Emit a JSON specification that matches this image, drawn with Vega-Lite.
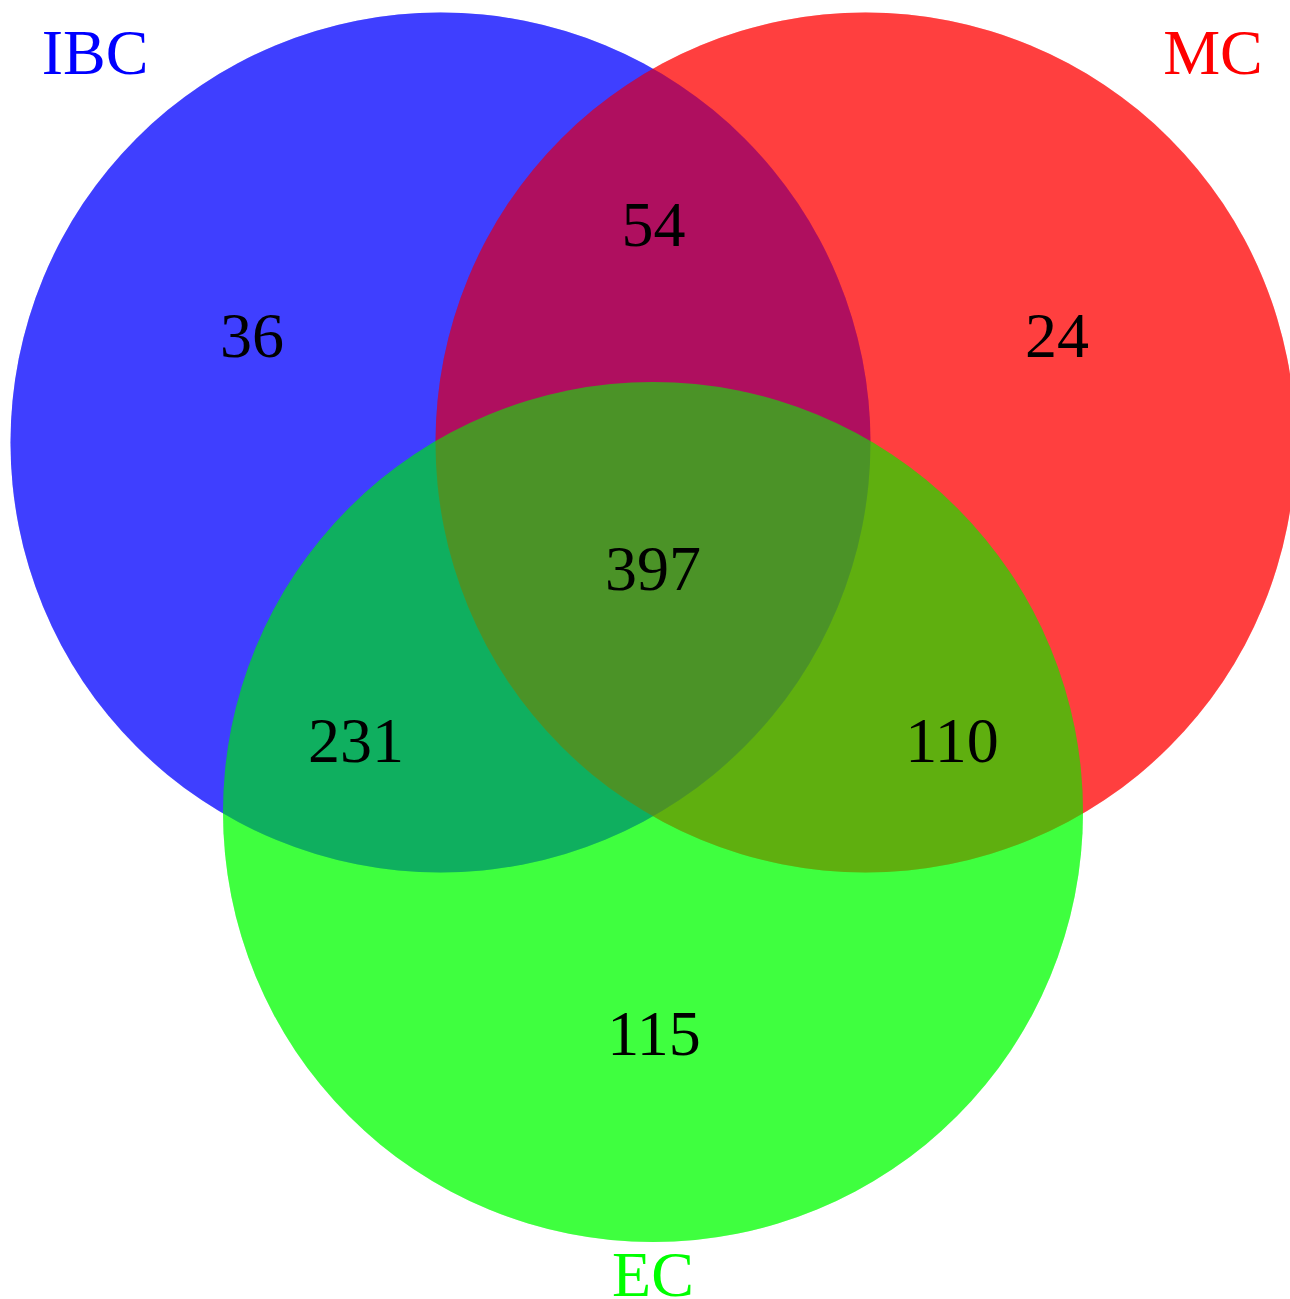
{
  "$schema": "https://vega.github.io/schema/vega-lite/v6.json",
  "width": 1290,
  "height": 1299,
  "padding": 0,
  "autosize": {"type": "none"},
  "background": "white",
  "config": {"view": {"stroke": null}},
  "datasets": {
    "sets": [
      {"set": "IBC", "cx": 4.405, "cy": 8.565, "lx": 0.95, "ly": 12.25},
      {"set": "MC", "cx": 8.655, "cy": 8.565, "lx": 12.13, "ly": 12.25},
      {"set": "EC", "cx": 6.53, "cy": 4.87, "lx": 6.53, "ly": 0.03}
    ],
    "counts": [
      {"region": "IBC only", "n": 36, "x": 2.52, "y": 9.42},
      {"region": "MC only", "n": 24, "x": 10.57, "y": 9.42},
      {"region": "IBC & MC", "n": 54, "x": 6.535, "y": 10.53},
      {"region": "all", "n": 397, "x": 6.53, "y": 7.09},
      {"region": "IBC & EC", "n": 231, "x": 3.56, "y": 5.37},
      {"region": "MC & EC", "n": 110, "x": 9.52, "y": 5.37},
      {"region": "EC only", "n": 115, "x": 6.54, "y": 2.44}
    ]
  },
  "resolve": {"scale": {"x": "shared", "y": "shared"}},
  "layer": [
    {
      "data": {"name": "sets"},
      "mark": {"type": "point", "shape": "circle", "filled": true, "opacity": 0.5, "size": 739600, "strokeWidth": 0, "clip": true},
      "encoding": {
        "x": {"field": "cx", "type": "quantitative", "scale": {"domain": [0, 12.9], "nice": false, "zero": false}, "axis": null},
        "y": {"field": "cy", "type": "quantitative", "scale": {"domain": [0, 12.99], "nice": false, "zero": false}, "axis": null},
        "color": {"field": "set", "type": "nominal", "scale": {"domain": ["IBC", "MC", "EC"], "range": ["#0000FF", "#FF0000", "#00FF00"]}, "legend": null}
      }
    },
    {
      "data": {"name": "sets"},
      "mark": {"type": "point", "shape": "circle", "filled": true, "opacity": 0.5, "size": 739600, "strokeWidth": 0, "clip": true},
      "encoding": {
        "x": {"field": "cx", "type": "quantitative"},
        "y": {"field": "cy", "type": "quantitative"},
        "color": {"field": "set", "type": "nominal", "legend": null}
      }
    },
    {
      "data": {"name": "sets"},
      "mark": {"type": "text", "font": "Liberation Serif", "fontSize": 64, "baseline": "alphabetic", "align": "center"},
      "encoding": {
        "x": {"field": "lx", "type": "quantitative"},
        "y": {"field": "ly", "type": "quantitative"},
        "text": {"field": "set"},
        "color": {"field": "set", "type": "nominal", "legend": null}
      }
    },
    {
      "data": {"name": "counts"},
      "mark": {"type": "text", "font": "Liberation Serif", "fontSize": 64, "baseline": "alphabetic", "align": "center", "color": "black"},
      "encoding": {
        "x": {"field": "x", "type": "quantitative"},
        "y": {"field": "y", "type": "quantitative"},
        "text": {"field": "n", "type": "quantitative"}
      }
    }
  ]
}
